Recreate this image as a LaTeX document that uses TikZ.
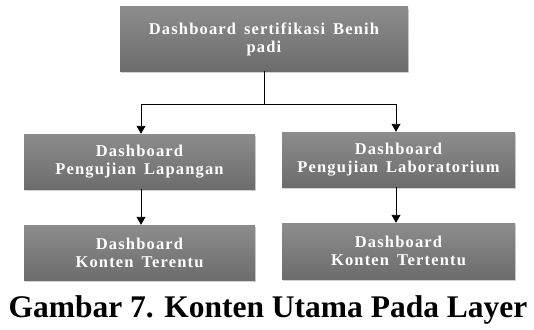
\documentclass[tikz,border=0pt]{standalone}
\usepackage{fontspec}
\setmainfont{Liberation Serif}
\newfontfamily\boxfont[LetterSpace=7,WordSpace=1.5]{Liberation Serif}
\usetikzlibrary{arrows.meta,shadows}

\tikzset{
  dashbox/.style={rectangle,top color=gray!90,bottom color=gray!85!black,
    draw=none,text=white,align=center,inner sep=0pt,
    font=\boxfont\bfseries\fontsize{16.5}{18}\selectfont,
    drop shadow={opacity=0.35,shadow xshift=1pt,shadow yshift=-2pt}},
  arr/.style={-{Triangle[width=9pt,length=8pt]},line width=0.9pt}
}

\begin{document}
\begin{tikzpicture}[x=1pt,y=1pt]

      \useasboundingbox (0,0) rectangle (534,-329);

      \node[dashbox,minimum width=288,minimum height=64] (top) at (264,-39) {Dashboard sertifikasi Benih\\padi};

      \node[dashbox,minimum width=231,minimum height=55] (lapangan) at (139.5,-161.5) {Dashboard\\Pengujian Lapangan};
      \node[dashbox,minimum width=233,minimum height=55] (lab) at (398.5,-159.5) {Dashboard\\Pengujian Laboratorium};

      \node[dashbox,minimum width=231,minimum height=55] (kontenL) at (139.5,-252.5) {Dashboard\\Konten Terentu};
      \node[dashbox,minimum width=233,minimum height=56] (kontenR) at (398.5,-251) {Dashboard\\Konten Tertentu};

      \coordinate (jl) at (141,-104);
      \coordinate (jr) at (396,-104);

      \draw[line width=0.9pt] (top.south) -- (top.south |- jl);
      \draw[arr] (top.south |- jl) -- (jl) -- (jl |- lapangan.north);
      \draw[arr] (top.south |- jr) -- (jr) -- (jr |- lab.north);

      \draw[arr] (jl |- lapangan.south) -- (jl |- kontenL.north);
      \draw[arr] (jr |- lab.south) -- (jr |- kontenR.north);

      \node[font=\bfseries\fontsize{31.5}{34}\selectfont,anchor=base] (caption) at (268,-317) {Gambar 7. Konten Utama Pada Layer};
    \end{tikzpicture}
\end{document}
